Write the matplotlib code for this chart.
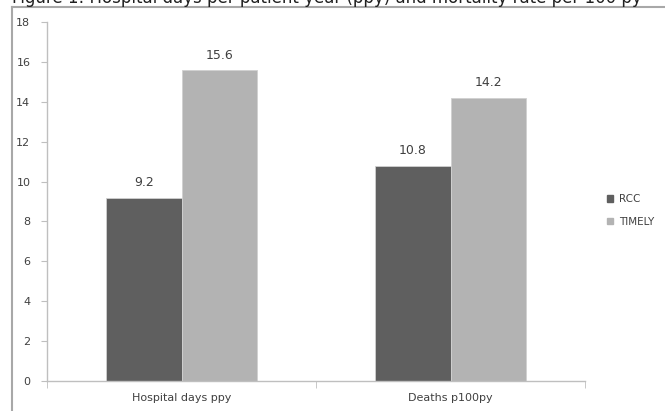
import matplotlib.pyplot as plt
import numpy as np
from matplotlib.patches import Rectangle
from matplotlib.lines import Line2D

categories = ["Hospital days ppy", "Deaths p100py"]
series_names = ["RCC", "TIMELY"]
rcc_values = [9.2, 10.8]
timely_values = [15.6, 14.2]
colors = ["#5f5f5f", "#b3b3b3"]
title = "Figure 1: Hospital days per patient year (ppy) and mortality rate per 100 py"

text_color = "#404040"
axis_color = "#bfbfbf"

fig = plt.figure(figsize=(6.65, 4.11), dpi=100)
ax = fig.add_axes([0.0707, 0.0730, 0.809, 0.8735])

x = np.arange(len(categories))
width = 0.28
bars1 = ax.bar(x - width / 2, rcc_values, width, color=colors[0],
               edgecolor="#d0d0d0", linewidth=0.6, label=series_names[0])
bars2 = ax.bar(x + width / 2, timely_values, width, color=colors[1],
               edgecolor="#d0d0d0", linewidth=0.6, label=series_names[1])

for bars in (bars1, bars2):
    for b in bars:
        ax.annotate(f"{b.get_height():.1f}", (b.get_x() + b.get_width() / 2, b.get_height()),
                    xytext=(0, 6), textcoords="offset points", ha="center", va="bottom",
                    fontsize=9, color=text_color)

ax.set_xlim(-0.5, len(categories) - 0.5)
ax.set_ylim(0, 18)
ax.set_yticks(range(0, 19, 2))
ax.set_xticks(x)
ax.set_xticklabels(categories)
ax.set_xticks([-0.5, 0.5, 1.5], minor=True)
ax.tick_params(axis="x", which="major", length=0, pad=9, labelsize=8, labelcolor=text_color)
ax.tick_params(axis="x", which="minor", length=5, color=axis_color, direction="out")
ax.tick_params(axis="y", length=4, color=axis_color, pad=8, labelsize=8, labelcolor=text_color)
for s in ["top", "right"]:
    ax.spines[s].set_visible(False)
for s in ["left", "bottom"]:
    ax.spines[s].set_color(axis_color)
    ax.spines[s].set_linewidth(1.0)

handles = [Rectangle((0, 0), 1, 1, color=c) for c in colors]
fig.legend(handles, series_names, loc="center left", bbox_to_anchor=(0.899, 0.488),
           frameon=False, fontsize=7.5, labelcolor=text_color, handlelength=0.6,
           handleheight=0.6, handletextpad=0.5, labelspacing=1.2)

# outer chart frame (only top and left edges visible in the crop)
fig.add_artist(Line2D([12 / 665, 1], [1 - 7 / 411, 1 - 7 / 411], transform=fig.transFigure,
                      color="#a8a8a8", linewidth=1.5))
fig.add_artist(Line2D([12 / 665, 12 / 665], [0, 1 - 7 / 411], transform=fig.transFigure,
                      color="#a8a8a8", linewidth=1.5))

fig.text(12 / 665, 1 - 3 / 411, title, fontsize=12, color="#202020", va="baseline", ha="left")

fig.savefig("out.png", dpi=100)
